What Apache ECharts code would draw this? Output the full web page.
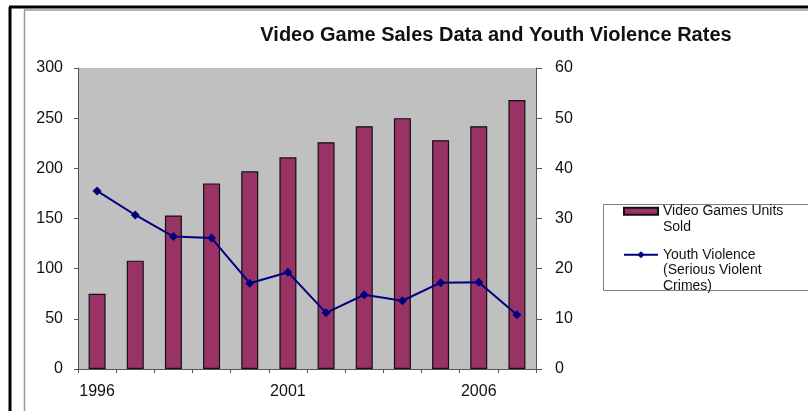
<!DOCTYPE html>
<html>
<head>
<meta charset="utf-8">
<script src="https://cdn.jsdelivr.net/npm/echarts@6/dist/echarts.min.js"></script>
<style>
html,body{margin:0;padding:0;background:#fff;}
#chart{width:808px;height:411px;}
</style>
</head>
<body>
<div id="chart"></div>
<script>
var years = ['1996','1997','1998','1999','2000','2001','2002','2003','2004','2005','2006','2007'];
var unitsSold = [75, 108, 153, 185, 197, 211, 226, 242, 250, 228, 242, 268];
var youthViolence = [35.5, 30.7, 26.4, 26.1, 17.1, 19.3, 11.2, 14.8, 13.6, 17.2, 17.3, 10.8];
var leftTicks = {min: 0, max: 300, interval: 50};
var rightTicks = {min: 0, max: 60, interval: 10};

var FONT = 'Liberation Sans, Arial, sans-serif';
var chart = echarts.init(document.getElementById('chart'), null, {renderer: 'canvas'});
chart.setOption({
  animation: false,
  backgroundColor: '#fff',
  title: {
    text: 'Video Game Sales Data and Youth Violence Rates',
    left: 491, top: 20, textAlign: 'center',
    textStyle: {fontFamily: FONT, fontSize: 20, fontWeight: 'bold', color: '#111'}
  },
  grid: {left: 78, right: 272, top: 68, bottom: 42, show: true, backgroundColor: '#C0C0C0', borderWidth: 0},
  legend: [
    {
      left: 623, top: 188, orient: 'vertical', padding: 0,
      itemWidth: 34, itemHeight: 7,
      data: [{name: 'Video Games Units Sold', icon: 'rect'}],
      formatter: function () { return '\nVideo Games Units\nSold'; },
      textStyle: {fontFamily: FONT, fontSize: 14, lineHeight: 15.5, color: '#111'}
    },
    {
      left: 623, top: 216, orient: 'vertical', padding: 0,
      itemWidth: 34, itemHeight: 9,
      data: ['Youth Violence (Serious Violent Crimes)'],
      formatter: function () { return '\n\nYouth Violence\n(Serious Violent\nCrimes)'; },
      textStyle: {fontFamily: FONT, fontSize: 14, lineHeight: 15.5, color: '#111'}
    }
  ],
  xAxis: {
    type: 'category', data: years, boundaryGap: true,
    axisLine: {lineStyle: {color: '#555', width: 1}},
    axisTick: {show: true, interval: 0, length: 4, lineStyle: {color: '#555'}},
    axisLabel: {interval: 4, margin: 15, fontFamily: FONT, fontSize: 16, color: '#111'},
    splitLine: {show: false}
  },
  yAxis: [
    {
      type: 'value', min: leftTicks.min, max: leftTicks.max, interval: leftTicks.interval,
      axisLine: {show: true, lineStyle: {color: '#555'}},
      axisTick: {show: true, length: 4, lineStyle: {color: '#555'}},
      axisLabel: {margin: 15, fontFamily: FONT, fontSize: 16, color: '#111'},
      splitLine: {show: false}
    },
    {
      type: 'value', min: rightTicks.min, max: rightTicks.max, interval: rightTicks.interval,
      position: 'right',
      axisLine: {show: true, lineStyle: {color: '#555'}},
      axisTick: {show: true, length: 6, lineStyle: {color: '#555'}},
      axisLabel: {margin: 19, fontFamily: FONT, fontSize: 16, color: '#111'},
      splitLine: {show: false}
    }
  ],
  series: [
    {
      name: 'Video Games Units Sold', type: 'bar', data: unitsSold, barWidth: 17,
      itemStyle: {color: '#993366', borderColor: '#111', borderWidth: 1.2}
    },
    {
      name: 'Youth Violence (Serious Violent Crimes)', type: 'line', yAxisIndex: 1, data: youthViolence,
      symbol: 'diamond', symbolSize: 9,
      lineStyle: {color: '#000080', width: 2},
      itemStyle: {color: '#000080'}
    }
  ],
  graphic: [
    {type: 'rect', shape: {x: 603.5, y: 204.5, width: 260, height: 86}, style: {fill: 'none', stroke: '#808080', lineWidth: 1}, silent: true},
    {type: 'line', shape: {x1: 10, y1: 7, x2: 10, y2: 411}, style: {stroke: '#000', lineWidth: 3}, silent: true},
    {type: 'line', shape: {x1: 9, y1: 7, x2: 808, y2: 7}, style: {stroke: '#000', lineWidth: 3}, silent: true},
    {type: 'line', shape: {x1: 24.5, y1: 10, x2: 24.5, y2: 411}, style: {stroke: '#9a9a9a', lineWidth: 1.5}, silent: true},
    {type: 'line', shape: {x1: 24, y1: 10, x2: 808, y2: 10}, style: {stroke: '#9a9a9a', lineWidth: 1.5}, silent: true}
  ]
});
</script>
</body>
</html>
